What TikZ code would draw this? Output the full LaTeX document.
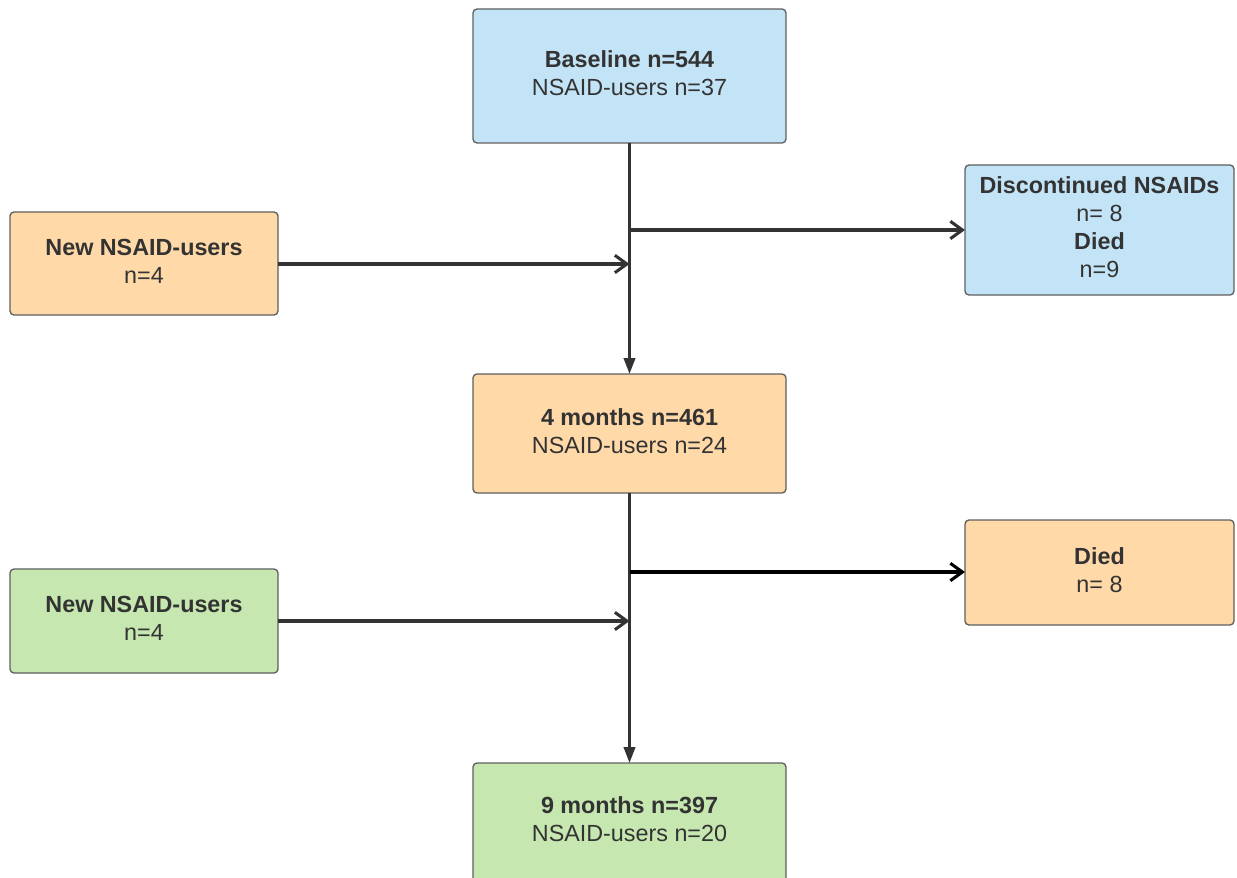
\documentclass[tikz,border=0pt]{standalone}
\usepackage{fontspec}
\setmainfont{Liberation Sans}
\usetikzlibrary{arrows.meta}
\definecolor{fblue}{HTML}{C3E4F6}
\definecolor{forange}{HTML}{FFD9A8}
\definecolor{fgreen}{HTML}{C6E7B0}
\definecolor{bordergray}{HTML}{5F5F5F}
\definecolor{txtgray}{HTML}{333333}
\definecolor{linegray}{HTML}{333333}
\newcommand{\boxlines}[1]{\raisebox{2.25pt}{\begin{tabular}{@{}c@{}}#1\end{tabular}}}
\tikzset{
  box/.style={draw=bordergray, line width=1pt, rounded corners=3pt, outer sep=0pt, inner sep=0pt,
    text=txtgray, font=\fontsize{17.5pt}{21pt}\selectfont},
  txtonly/.style={text=txtgray, font=\fontsize{17.5pt}{21pt}\selectfont, inner sep=0pt},
  mainflow/.style={draw=linegray, line width=2.2pt, -{Triangle[length=12pt,width=8.5pt]}},
  sideflow/.style={draw=linegray, line width=2.3pt, -{Straight Barb[length=9pt,width=13pt,line width=2.3pt]}},
}
\begin{document}
\begin{tikzpicture}[x=0.75pt,y=-0.75pt]
\useasboundingbox (0,0) rectangle (1237,877);
\clip (0,0) rectangle (1237,877);
\node[box, fill=fblue, minimum width=313*0.75pt, minimum height=134*0.75pt] (base) at (629.5,76)
  {\boxlines{\textbf{Baseline n=544}\\NSAID-users n=37}};
\node[box, fill=fblue, minimum width=269*0.75pt, minimum height=130*0.75pt] (disc) at (1099.5,230)
  {\boxlines{\textbf{Discontinued NSAIDs}\\n= 8\\\textbf{Died}\\n=9}};
\node[box, fill=forange, minimum width=268*0.75pt, minimum height=103*0.75pt] (new1) at (144,263.5)
  {\boxlines{\textbf{New NSAID-users}\\n=4}};
\node[box, fill=forange, minimum width=313*0.75pt, minimum height=119*0.75pt] (m4) at (629.5,433.5)
  {\boxlines{\textbf{4 months n=461}\\NSAID-users n=24}};
\node[box, fill=forange, minimum width=269*0.75pt, minimum height=105*0.75pt] (died) at (1099.5,572.5)
  {\boxlines{\textbf{Died}\\n= 8}};
\node[box, fill=fgreen, minimum width=268*0.75pt, minimum height=104*0.75pt] (new2) at (144,621)
  {\boxlines{\textbf{New NSAID-users}\\n=4}};
\node[box, fill=fgreen, minimum width=313*0.75pt, minimum height=140*0.75pt] (m9) at (629.5,833) {};
\node[txtonly] (m9t) at (629.5,822) {\boxlines{\textbf{9 months n=397}\\NSAID-users n=20}};

\coordinate (j1) at (629.5,230);
\coordinate (j2) at (629.5,264);
\coordinate (j3) at (629.5,572);
\coordinate (j4) at (629.5,621);

\draw[mainflow] (base.south) -- (m4.north);
\draw[mainflow] (m4.south) -- (m9.north);
\draw[sideflow] (j1) -- (disc.west |- j1);
\draw[sideflow] (new1.east |- j2) -- (j2);
\draw[sideflow, draw=black] (j3) -- (died.west |- j3);
\draw[sideflow] (new2.east |- j4) -- (j4);
\end{tikzpicture}
\end{document}
